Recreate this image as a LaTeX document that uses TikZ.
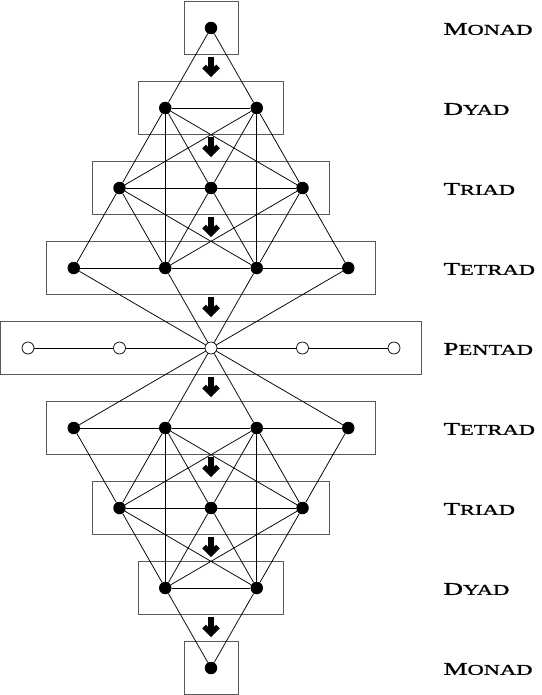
\documentclass[tikz,border=0pt]{standalone}
\usepackage{fontspec}
\newfontfamily\lblfont[FakeStretch=1.5,FakeBold=1.2]{Liberation Serif}
\newcommand\lvlname[2]{{\fontsize{18}{18}\selectfont #1}{\fontsize{15}{15}\selectfont #2}}

\begin{document}
\begin{tikzpicture}[x=1pt,y=-1pt,
      dot/.style={circle,fill=black,inner sep=0pt,minimum size=12.5pt},
      hole/.style={circle,draw=black,fill=white,line width=0.7pt,inner sep=0pt,minimum size=12pt},
      lvl/.style={draw=black!65,line width=0.9pt,minimum height=53pt,inner sep=0pt},
      ln/.style={line width=0.75pt},
      stem/.style={line width=5.6pt},
      barb/.style={line width=5pt,miter limit=10},
      tag/.style={anchor=west,font=\lblfont}]
    \useasboundingbox (0,0) rectangle (541,695);

    % frames
    \foreach \n/\y/\w in {m1/28/54,d1/108/145,t1/188/237,q1/268/329,p/348/421,
                          q2/428/329,t2/508/237,d2/588/145,m2/668/54}{
      \node[lvl,minimum width=\w pt] (box\n) at (211,\y) {};}

    % points
    \node[dot] (m1) at (211,28) {};
    \node[dot] (d1a) at (165.25,108) {};
    \node[dot] (d1b) at (256.75,108) {};
    \node[dot] (t1a) at (119.5,188) {};
    \node[dot] (t1b) at (211,188) {};
    \node[dot] (t1c) at (302.5,188) {};
    \node[dot] (q1a) at (73.75,268) {};
    \node[dot] (q1b) at (165.25,268) {};
    \node[dot] (q1c) at (256.75,268) {};
    \node[dot] (q1d) at (348.25,268) {};
    \node[hole] (pa) at (28,348) {};
    \node[hole] (pb) at (119.5,348) {};
    \node[hole] (pc) at (211,348) {};
    \node[hole] (pd) at (302.5,348) {};
    \node[hole] (pe) at (394,348) {};
    \node[dot] (q2a) at (73.75,428) {};
    \node[dot] (q2b) at (165.25,428) {};
    \node[dot] (q2c) at (256.75,428) {};
    \node[dot] (q2d) at (348.25,428) {};
    \node[dot] (t2a) at (119.5,508) {};
    \node[dot] (t2b) at (211,508) {};
    \node[dot] (t2c) at (302.5,508) {};
    \node[dot] (d2a) at (165.25,588) {};
    \node[dot] (d2b) at (256.75,588) {};
    \node[dot] (m2) at (211,668) {};

    % upper half
    \foreach \a/\b in {m1/d1a,m1/d1b,d1a/d1b,
                       d1a/t1a,d1a/t1b,d1a/t1c,d1b/t1a,d1b/t1b,d1b/t1c,
                       t1a/t1b,t1b/t1c,d1a/q1b,d1b/q1c,
                       t1a/q1a,t1a/q1b,t1a/q1c,t1b/q1b,t1b/q1c,t1c/q1b,t1c/q1c,t1c/q1d,
                       q1a/q1b,q1b/q1c,q1c/q1d,
                       q1a/pc,q1b/pc,q1c/pc,q1d/pc}{
      \draw[ln] (\a) -- (\b);}
    % pentad row
    \foreach \a/\b in {pa/pb,pb/pc,pc/pd,pd/pe}{
      \draw[ln] (\a) -- (\b);}
    % lower half
    \foreach \a/\b in {pc/q2a,pc/q2b,pc/q2c,pc/q2d,
                       q2a/q2b,q2b/q2c,q2c/q2d,
                       q2a/t2a,q2b/t2a,q2b/t2b,q2b/t2c,q2c/t2a,q2c/t2b,q2c/t2c,q2d/t2c,
                       q2b/d2a,q2c/d2b,t2a/t2b,t2b/t2c,
                       t2a/d2a,t2a/d2b,t2b/d2a,t2b/d2b,t2c/d2a,t2c/d2b,
                       d2a/d2b,d2a/m2,d2b/m2}{
      \draw[ln] (\a) -- (\b);}

    % arrows between frames
    \foreach \a/\b in {m1/d1,d1/t1,t1/q1,q1/p,p/q2,q2/t2,t2/d2,d2/m2}{
      \path (box\a.south) -- coordinate[midway] (ar\a) (box\b.north);
      \draw[stem] ([yshift=11pt]ar\a) -- ([yshift=-5pt]ar\a);
      \draw[barb] ([xshift=-7pt,yshift=1.5pt]ar\a) -- ([yshift=-5.5pt]ar\a)
                  -- ([xshift=7pt,yshift=1.5pt]ar\a);}

    % names
    \node[tag] (lm1) at (440,29) {\lvlname{M}{ONAD}};
    \node[tag] (ld1) at (440,109) {\lvlname{D}{YAD}};
    \node[tag] (lt1) at (440,189) {\lvlname{T}{RIAD}};
    \node[tag] (lq1) at (440,269) {\lvlname{T}{ETRAD}};
    \node[tag] (lp) at (440,349) {\lvlname{P}{ENTAD}};
    \node[tag] (lq2) at (440,429) {\lvlname{T}{ETRAD}};
    \node[tag] (lt2) at (440,509) {\lvlname{T}{RIAD}};
    \node[tag] (ld2) at (440,589) {\lvlname{D}{YAD}};
    \node[tag] (lm2) at (440,669) {\lvlname{M}{ONAD}};
\end{tikzpicture}
\end{document}
